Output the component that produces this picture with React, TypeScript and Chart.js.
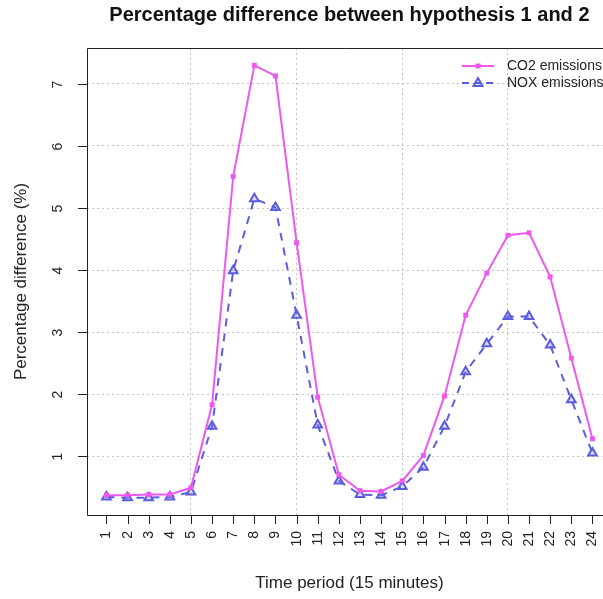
import React, { useEffect, useRef } from "react";
import { Chart, registerables } from "chart.js";

Chart.register(...registerables);

const periods = [1,2,3,4,5,6,7,8,9,10,11,12,13,14,15,16,17,18,19,20,21,22,23,24];
const co2 = [0.37,0.37,0.38,0.38,0.49,1.83,5.51,7.30,7.13,4.44,1.95,0.70,0.44,0.43,0.60,1.01,1.97,3.27,3.95,4.56,4.60,3.89,2.58,1.28];
const nox = [0.34,0.33,0.33,0.34,0.42,1.48,3.99,5.15,5.01,3.27,1.50,0.60,0.38,0.37,0.51,0.82,1.48,2.36,2.81,3.25,3.25,2.79,1.91,1.05];
const yTicks = [1,2,3,4,5,6,7];
const xGridAt = [5,10,15,20];

const titleText = "Percentage difference between hypothesis 1 and 2";
const xTitle = "Time period (15 minutes)";
const yTitle = "Percentage difference (%)";
const seriesNames = ["CO2 emissions", "NOX emissions"];

const CO2_COLOR = "#EE58EE";
const NOX_COLOR = "#5C5CE0";
const FONT = "'Liberation Sans', Arial, sans-serif";
const TEXT = "#222";
const X_MIN = 0.08;
const X_MAX_FULL = 24.92;

const overlay = {
  id: "overlay",
  afterDraw(chart: any) {
    const ctx = chart.ctx;
    const a = chart.chartArea;
    const xs = chart.scales.x;
    const ys = chart.scales.y;
    ctx.save();
    // box
    ctx.strokeStyle = "#222";
    ctx.lineWidth = 1;
    ctx.setLineDash([]);
    ctx.beginPath();
    ctx.moveTo(a.right + 10, a.top + 0.5);
    ctx.lineTo(a.left + 0.5, a.top + 0.5);
    ctx.lineTo(a.left + 0.5, a.bottom + 0.5);
    ctx.lineTo(a.right + 10, a.bottom + 0.5);
    ctx.stroke();
    // y ticks
    ctx.fillStyle = TEXT;
    ctx.font = `14px ${FONT}`;
    ctx.textAlign = "center";
    ctx.textBaseline = "middle";
    yTicks.forEach((v) => {
      const py = Math.round(ys.getPixelForValue(v)) + 0.5;
      ctx.beginPath();
      ctx.moveTo(a.left, py);
      ctx.lineTo(a.left - 9, py);
      ctx.stroke();
      ctx.save();
      ctx.translate(a.left - 29, py);
      ctx.rotate(-Math.PI / 2);
      ctx.fillText(String(v), 0, 0);
      ctx.restore();
    });
    // x ticks
    periods.forEach((v) => {
      const px = Math.round(xs.getPixelForValue(v)) + 0.5;
      ctx.beginPath();
      ctx.moveTo(px, a.bottom);
      ctx.lineTo(px, a.bottom + 9);
      ctx.stroke();
      ctx.save();
      ctx.translate(px, a.bottom + 16);
      ctx.rotate(-Math.PI / 2);
      ctx.textAlign = "right";
      ctx.textBaseline = "middle";
      ctx.fillText(String(v), 0, 0);
      ctx.restore();
    });
    // titles
    const cx = (xs.getPixelForValue(X_MIN) + xs.getPixelForValue(X_MAX_FULL)) / 2;
    ctx.font = `bold 20px ${FONT}`;
    ctx.textAlign = "center";
    ctx.textBaseline = "middle";
    ctx.fillStyle = "#111";
    ctx.fillText(titleText, cx, 15);
    ctx.font = `17px ${FONT}`;
    ctx.fillStyle = TEXT;
    ctx.fillText(xTitle, cx, 583);
    ctx.save();
    ctx.translate(21, (a.top + a.bottom) / 2);
    ctx.rotate(-Math.PI / 2);
    ctx.fillText(yTitle, 0, 0);
    ctx.restore();
    // legend
    const lx0 = 462, lx1 = 494, mx = 478;
    const rows = [66, 83];
    ctx.lineWidth = 2;
    ctx.strokeStyle = CO2_COLOR;
    ctx.beginPath();
    ctx.moveTo(lx0, rows[0]);
    ctx.lineTo(lx1, rows[0]);
    ctx.stroke();
    ctx.fillStyle = CO2_COLOR;
    ctx.fillRect(mx - 2.5, rows[0] - 2.5, 5, 5);
    ctx.strokeStyle = NOX_COLOR;
    ctx.setLineDash([7, 5]);
    ctx.beginPath();
    ctx.moveTo(lx0, rows[1]);
    ctx.lineTo(lx1, rows[1]);
    ctx.stroke();
    ctx.setLineDash([]);
    ctx.fillStyle = "rgba(110,110,235,0.25)";
    ctx.beginPath();
    ctx.moveTo(mx, rows[1] - 5);
    ctx.lineTo(mx + 4.5, rows[1] + 3);
    ctx.lineTo(mx - 4.5, rows[1] + 3);
    ctx.closePath();
    ctx.fill();
    ctx.stroke();
    ctx.font = `14px ${FONT}`;
    ctx.fillStyle = TEXT;
    ctx.textAlign = "left";
    ctx.textBaseline = "middle";
    ctx.fillText(seriesNames[0], 507, rows[0]);
    ctx.fillText(seriesNames[1], 507, rows[1]);
    ctx.restore();
  },
};

export default function App() {
  const ref = useRef<HTMLCanvasElement | null>(null);
  useEffect(() => {
    if (!ref.current) return;
    const chart = new Chart(ref.current, {
      type: "line",
      data: {
        datasets: [
          {
            label: seriesNames[0],
            data: periods.map((p, i) => ({ x: p, y: co2[i] })),
            borderColor: CO2_COLOR,
            backgroundColor: CO2_COLOR,
            borderWidth: 2,
            pointStyle: "rect",
            pointRadius: 3.5,
            pointBorderWidth: 0,
            tension: 0,
          },
          {
            label: seriesNames[1],
            data: periods.map((p, i) => ({ x: p, y: nox[i] })),
            borderColor: NOX_COLOR,
            backgroundColor: "rgba(110,110,235,0.25)",
            borderWidth: 2,
            borderDash: [8, 7],
            pointStyle: "triangle",
            pointRadius: 5,
            pointBorderWidth: 2,
            tension: 0,
          },
        ],
      },
      options: {
        responsive: false,
        animation: false,
        layout: { autoPadding: false, padding: { top: 48, left: 0, right: 0, bottom: 0 } },
        plugins: { legend: { display: false }, title: { display: false }, tooltip: { enabled: false } },
        scales: {
          x: {
            type: "linear",
            min: X_MIN,
            max: 24.5,
            afterFit: (s: any) => { s.height = 84; },
            afterBuildTicks: (s: any) => { s.ticks = xGridAt.map((v) => ({ value: v })); },
            ticks: { display: false },
            border: { display: false, dash: [2, 3] },
            grid: { color: "#c4c4c4", drawTicks: false, lineWidth: 1 },
          },
          y: {
            type: "linear",
            min: 0.05,
            max: 7.58,
            afterFit: (s: any) => { s.width = 87; },
            afterBuildTicks: (s: any) => { s.ticks = yTicks.map((v) => ({ value: v })); },
            ticks: { display: false },
            border: { display: false, dash: [2, 3] },
            grid: { color: "#c4c4c4", drawTicks: false, lineWidth: 1 },
          },
        },
      },
      plugins: [overlay],
    } as any);
    return () => chart.destroy();
  }, []);
  return (
    <div style={{ position: "absolute", left: 0, top: 0, width: 603, height: 599, background: "#fff" }}>
      <canvas ref={ref} width={603} height={599} style={{ display: "block" }} />
    </div>
  );
}
